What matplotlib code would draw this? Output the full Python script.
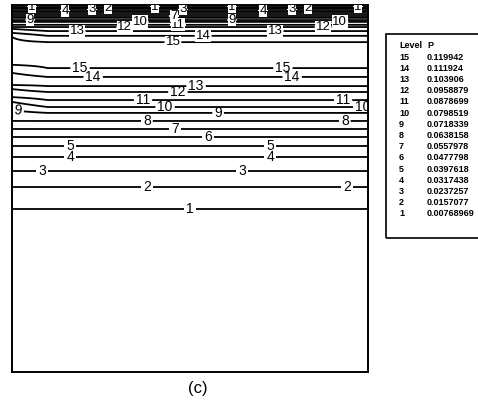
import numpy as np
import matplotlib
matplotlib.use("Agg")
import matplotlib.pyplot as plt
from matplotlib.patches import Rectangle

plt.rcParams['font.family'] = ['Liberation Sans', 'DejaVu Sans']

# contour levels (level number -> P)
level_ids = [15, 14, 13, 12, 11, 10, 9, 8, 7, 6, 5, 4, 3, 2, 1]
level_p = [0.119942, 0.111924, 0.103906, 0.0958879, 0.0878699, 0.0798519,
           0.0718339, 0.0638158, 0.0557978, 0.0477798, 0.0397618, 0.0317438,
           0.0237257, 0.0157077, 0.00768969]
p_max = 0.125

# height (0 = bottom, 1 = top) where each level 1..15 crosses
lower_mid = [0.444, 0.504, 0.548, 0.586, 0.616, 0.640, 0.662, 0.684,
             0.706, 0.722, 0.741, 0.763, 0.779, 0.804, 0.828]
lower_left = [0.444, 0.504, 0.548, 0.586, 0.616, 0.640, 0.662, 0.684,
              0.714, 0.736, 0.749, 0.771, 0.782, 0.815, 0.837]
upper_mid = [0.995, 0.992, 0.989, 0.985, 0.981, 0.975, 0.970, 0.965,
             0.959, 0.954, 0.946, 0.940, 0.929, 0.916, 0.899]
upper_left = [0.995, 0.992, 0.989, 0.985, 0.981, 0.975, 0.970, 0.965,
              0.959, 0.954, 0.946, 0.940, 0.935, 0.924, 0.913]
peak_y = 0.865
col_x = [0.0, 0.1, 1.0]

# label spots (level, x, y)
labels_lower = [(1, 0.50, 0.444), (2, 0.379, 0.504), (2, 0.941, 0.504),
                (3, 0.084, 0.548), (3, 0.646, 0.548), (4, 0.163, 0.586),
                (4, 0.725, 0.586), (5, 0.163, 0.616), (5, 0.725, 0.616),
                (6, 0.551, 0.640), (7, 0.458, 0.662), (8, 0.379, 0.684),
                (8, 0.935, 0.684), (9, 0.017, 0.710), (9, 0.579, 0.706),
                (10, 0.430, 0.722), (10, 0.985, 0.722), (11, 0.368, 0.741),
                (11, 0.930, 0.741), (12, 0.466, 0.763), (13, 0.517, 0.779),
                (14, 0.228, 0.804), (14, 0.787, 0.804), (15, 0.191, 0.830),
                (15, 0.761, 0.828)]
labels_upper = [(15, 0.452, 0.899), (14, 0.537, 0.916), (13, 0.183, 0.930),
                (13, 0.739, 0.929), (12, 0.317, 0.940), (12, 0.874, 0.940),
                (11, 0.466, 0.946), (10, 0.360, 0.954), (10, 0.921, 0.954),
                (9, 0.051, 0.959), (9, 0.618, 0.959), (7, 0.455, 0.970),
                (3, 0.480, 0.989), (1, 0.056, 0.995), (1, 0.402, 0.995),
                (1, 0.618, 0.995), (1, 0.972, 0.995), (4, 0.149, 0.985),
                (4, 0.705, 0.985), (3, 0.225, 0.989), (3, 0.787, 0.989),
                (2, 0.270, 0.992), (2, 0.831, 0.992)]

p_by_id = dict(zip(level_ids, level_p))
p_up = [p_by_id[i] for i in range(1, 16)]


def profile(lower, upper, yy):
    ys = [0.0] + lower + [peak_y] + upper[::-1] + [1.0]
    ps = [0.0] + p_up + [p_max] + p_up[::-1] + [0.0]
    return np.interp(yy, ys, ps)


yy = np.linspace(0, 1, 1500)
xx = np.linspace(0, 1, 300)
cols = [profile(lower_left, upper_left, yy),
        profile(lower_mid, upper_mid, yy),
        profile(lower_mid, upper_mid, yy)]
Z = np.empty((len(yy), len(xx)))
for j, x in enumerate(xx):
    k = 0 if x <= col_x[1] else 1
    t = (x - col_x[k]) / (col_x[k + 1] - col_x[k])
    Z[:, j] = (1 - t) * cols[k] + t * cols[k + 1]
X, Y = np.meshgrid(xx, yy)

fig = plt.figure(figsize=(4.78, 4.13), dpi=100)
ax = fig.add_axes([12 / 478, 1 - 372 / 413, 356 / 478, 367 / 413])
ax.set_xlim(0, 1)
ax.set_ylim(0, 1)
ax.set_xticks([])
ax.set_yticks([])
for s in ax.spines.values():
    s.set_linewidth(1.4)

# one contour set per level so manual labels snap to the right level
for lev in level_ids:
    p = p_by_id[lev]
    cs = ax.contour(X, Y, Z, levels=[p], colors='black', linewidths=1.3)
    fmt = {p: str(lev)}
    pts = [(x, y) for (l, x, y) in labels_lower if l == lev]
    if pts:
        ax.clabel(cs, manual=pts, fmt=fmt, fontsize=10, inline=True,
                  inline_spacing=2)
    n0 = len(cs.labelTexts) if hasattr(cs, 'labelTexts') else 0
    pts = [(x, y) for (l, x, y) in labels_upper if l == lev]
    if pts:
        ax.clabel(cs, manual=pts, fmt=fmt, fontsize=9.5, inline=True,
                  inline_spacing=1)
        for t in cs.labelTexts[n0:]:
            t.set_bbox(dict(facecolor='white', edgecolor='none', pad=0.3))
            t.set_zorder(5)

fig.text(198 / 478, 1 - 388 / 413, '(c)', fontsize=12, ha='center', va='center')

# legend table
fig.add_artist(Rectangle((386 / 478, 1 - 238 / 413), 0.3, 204 / 413,
                         transform=fig.transFigure, fill=False,
                         edgecolor='black', linewidth=1.2))
fig.text(399 / 478, 1 - 46 / 413, 'Level', fontsize=6.5, weight='bold', va='center')
fig.text(427 / 478, 1 - 46 / 413, 'P', fontsize=6.5, weight='bold', va='center')
for k, (i, p) in enumerate(zip(level_ids, level_p)):
    y = 1 - (57 + 11.2 * k) / 413
    fig.text(399 / 478, y, str(i), fontsize=6.5, weight='bold', va='center')
    fig.text(427 / 478, y, f'{p:g}' if p >= 0.01 else f'{p:.8f}'.rstrip('0'),
             fontsize=6.5, weight='bold', va='center')

fig.savefig('out.png', dpi=100)
